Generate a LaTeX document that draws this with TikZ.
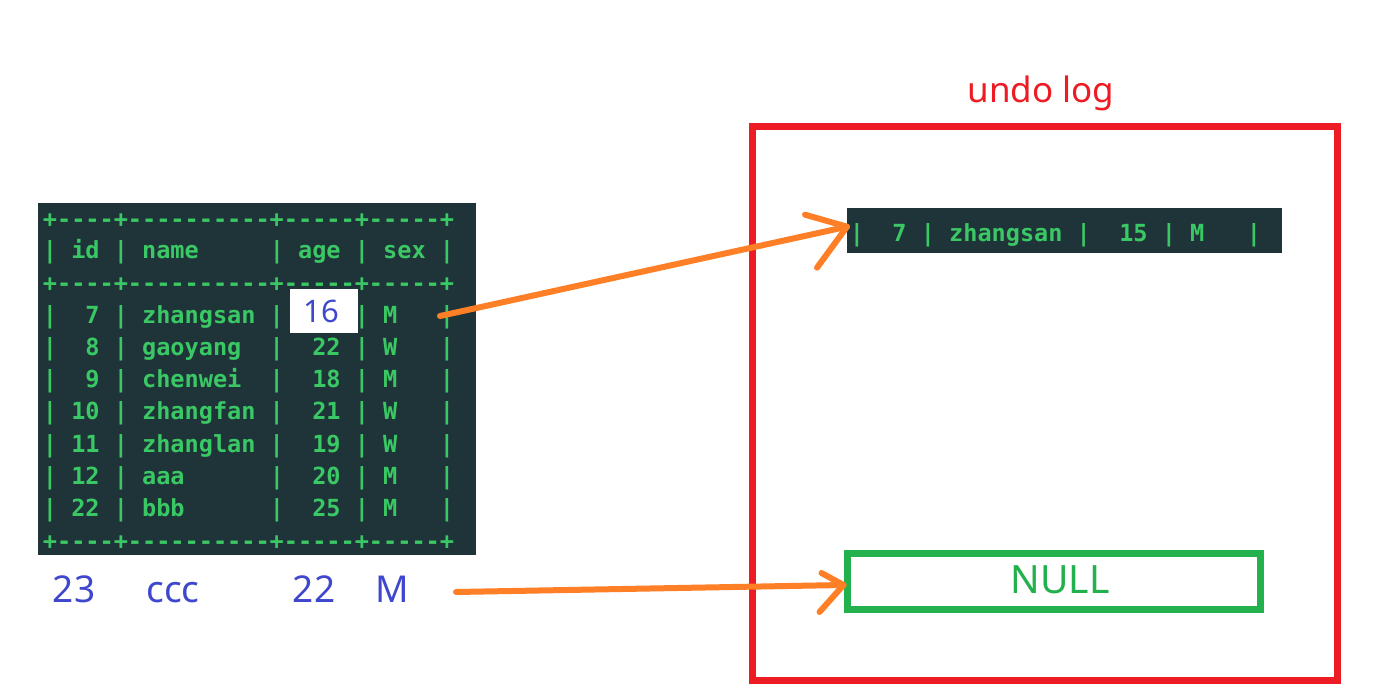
\documentclass[tikz,border=0pt]{standalone}
\usepackage{fontspec}
\setmainfont{Noto Sans}
\setmonofont{DejaVu Sans Mono}
\usetikzlibrary{calc}
\definecolor{tbg}{RGB}{31,52,57}
\definecolor{tgreen}{RGB}{58,200,100}
\definecolor{porange}{RGB}{255,127,39}
\definecolor{pred}{RGB}{237,28,36}
\definecolor{pgreen}{RGB}{34,177,76}
\definecolor{pblue}{RGB}{63,72,204}
\begin{document}
\begin{tikzpicture}[x=1pt,y=-1pt,
  mono/.style={anchor=base west, inner sep=0pt, outer sep=0pt, text=tgreen, font=\ttfamily\bfseries\fontsize{23.55}{28}\selectfont},
  bluetxt/.style={anchor=base, inner sep=0pt, text=pblue, font=\fontsize{37}{44}\selectfont},
  darkbox/.style={fill=tbg, inner sep=0pt, anchor=north west},
  arrowline/.style={draw=porange, line width=6pt, line cap=round, line join=round}]
\useasboundingbox (0,0) rectangle (1383,695);
\fill[white] (0,0) rectangle (1383,695);

% ---- left table ----
\node[darkbox, minimum width=438, minimum height=352] (tbl) at (38,203) {};
\node[mono] (d1) at (42.9,227.5) {+----+----------+-----+-----+};
\node[mono] (hd) at (42.9,258) {|~id~|~name~~~~~|~age~|~sex~|};
\node[mono] (d2) at (42.9,291.5) {+----+----------+-----+-----+};
\node[mono] (r1) at (42.9,323) {|~~7~|~zhangsan~|~~~~~|~M~~~|};
\node[mono] (r2) at (42.9,355.3) {|~~8~|~gaoyang~~|~~22~|~W~~~|};
\node[mono] (r3) at (42.9,387.6) {|~~9~|~chenwei~~|~~18~|~M~~~|};
\node[mono] (r4) at (42.9,419.9) {|~10~|~zhangfan~|~~21~|~W~~~|};
\node[mono] (r5) at (42.9,452.2) {|~11~|~zhanglan~|~~19~|~W~~~|};
\node[mono] (r6) at (42.9,484.5) {|~12~|~aaa~~~~~~|~~20~|~M~~~|};
\node[mono] (r7) at (42.9,516.8) {|~22~|~bbb~~~~~~|~~25~|~M~~~|};
\node[mono] (d3) at (42.9,549.5) {+----+----------+-----+-----+};

% new value 16
\node[fill=white, minimum width=68, minimum height=44, inner sep=0pt] (newbox) at (324,311) {};
\node[anchor=base, inner sep=0pt, text=pblue, font=\fontsize{31}{36}\selectfont] (v16) at (321.5,322.5) {16};

% inserted row
\node[bluetxt] (n23) at (74,602) {23};
\node[bluetxt] (nccc) at (173,602) {ccc};
\node[bluetxt] (n22) at (314,602) {22};
\node[bluetxt] (nM) at (392,602) {M};

% ---- undo log ----
\node[draw=pred, line width=7pt, minimum width=585, minimum height=553, inner sep=0pt] (undolog) at (1044.5,403.5) {};
\node[anchor=base, inner sep=0pt, text=pred, font=\fontsize{35}{42}\selectfont] (title) at (1041,102.5) {undo log};

\node[darkbox, minimum width=435, minimum height=45] (old) at (847,208) {};
\node[mono] (oldtxt) at (849.9,241) {|~~7~|~zhangsan~|~~15~|~M~~~|};

\node[draw=pgreen, line width=7pt, minimum width=413, minimum height=56, inner sep=0pt] (null) at (1053.5,581.5) {};
\node[anchor=base, inner sep=0pt, text=pgreen, font=\fontsize{39}{46}\selectfont] (nulltxt) at (1060,593) {NULL};

% ---- arrows ----
\coordinate (a1s) at (440,316);
\coordinate (a1e) at ([yshift=4pt]old.west);
\draw[arrowline] (a1s) -- (a1e);
\draw[arrowline] ($(a1e)+(-42,-12)$) -- (a1e) -- ($(a1e)+(-30,41)$);

\coordinate (a2s) at (456,592);
\coordinate (a2e) at ([yshift=-3.5pt]null.west);
\draw[arrowline] (a2s) -- (a2e);
\draw[arrowline] ($(a2e)+(-22,-12)$) -- (a2e) -- ($(a2e)+(-24,27)$);
\end{tikzpicture}
\end{document}
